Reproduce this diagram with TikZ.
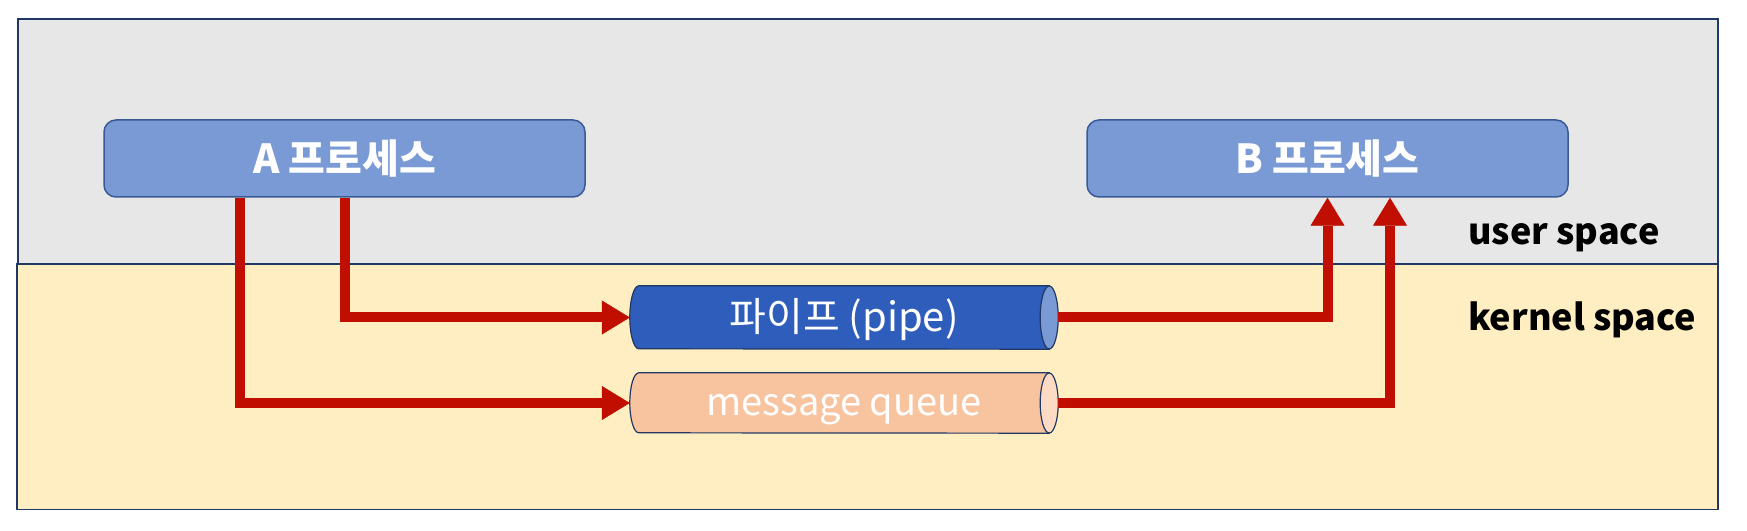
\documentclass[tikz,border=0pt]{standalone}
\usepackage{fontspec}
\setmainfont{Noto Sans CJK KR}
\usetikzlibrary{arrows.meta,calc}
\pgfdeclarelayer{back}
\pgfdeclarelayer{mid}
\pgfsetlayers{back,mid,main}
\definecolor{usergray}{HTML}{E7E7E7}
\definecolor{kernyel}{HTML}{FFEEC1}
\definecolor{navy}{HTML}{203864}
\definecolor{procblue}{HTML}{7A9AD6}
\definecolor{procedge}{HTML}{3A5A96}
\definecolor{pipeblue}{HTML}{2F5DBB}
\definecolor{mqpeach}{HTML}{F8C39F}
\definecolor{mqend}{HTML}{FCDAC3}
\definecolor{redc}{HTML}{C00F00}
\newcommand\mycyl[5]{%
  \filldraw[fill=#2, draw=#4, line width=1.2pt]
    ([xshift=-9pt]#1.north east) -- ([xshift=9pt]#1.north west)
    arc[start angle=90, end angle=270, x radius=9pt, y radius=#5]
    -- ([xshift=-9pt]#1.south east) -- cycle;
  \filldraw[fill=#3, draw=#4, line width=1.2pt]
    ([xshift=-9pt]#1.east) ellipse[x radius=9pt, y radius=#5];
}
\begin{document}
\begin{tikzpicture}[x=1pt,y=1pt,
  region/.style={draw=navy, line width=1.5pt, anchor=south west, inner sep=0pt},
  proc/.style={draw=procedge, fill=procblue, line width=1.5pt, rounded corners=12pt,
    minimum width=481pt, minimum height=77pt, inner sep=0pt,
    text=white, font=\fontsize{40}{46}\selectfont\bfseries},
  cylbox/.style={minimum width=428pt, inner sep=0pt},
  cyllbl/.style={text=white, inner sep=0pt},
  lbl/.style={anchor=west, inner sep=0pt, font=\fontsize{36}{42}\selectfont\bfseries},
  arr/.style={draw=redc, line width=10pt,
    -{Triangle[length=28pt,width=34pt,line width=0.5pt]}}
]
\useasboundingbox (0,0) rectangle (1747,530);
\begin{pgfonlayer}{back}
\fill[white] (0,0) rectangle (1747,530);
\node[region, fill=usergray, minimum width=1700pt, minimum height=245pt] (user) at (17,265) {};
\node[region, fill=kernyel, minimum width=1701pt, minimum height=245pt] (kernel) at (16,20) {};
\end{pgfonlayer}

\node[proc] (A) at (344.5,371.5) {A 프로세스};
\node[proc] (B) at (1327.5,371.5) {B 프로세스};

\node[cylbox, minimum height=63pt,
  label={[cyllbl, yshift=-2pt, font=\fontsize{40}{46}\selectfont]center:파이프 (pipe)}]
  (pipe) at (844,212.5) {};
\node[cylbox, minimum height=60pt,
  label={[cyllbl, yshift=-7pt, font=\fontsize{38}{44}\selectfont]center:message queue}]
  (mq) at (844,127) {};
\begin{pgfonlayer}{mid}
\mycyl{pipe}{pipeblue}{procblue}{navy}{31.5pt}
\mycyl{mq}{mqpeach}{mqend}{navy}{30pt}
\end{pgfonlayer}

\node[lbl] (us) at (1468,292) {user space};
\node[lbl] (ks) at (1468,210) {kernel space};

\draw[arr] (A.south) |- (pipe.west);
\draw[arr] ([xshift=-104.5pt]A.south) |- (mq.west);
\draw[arr] (pipe.east) -| (B.south);
\draw[arr] (mq.east) -| ([xshift=62.5pt]B.south);
\end{tikzpicture}
\end{document}
